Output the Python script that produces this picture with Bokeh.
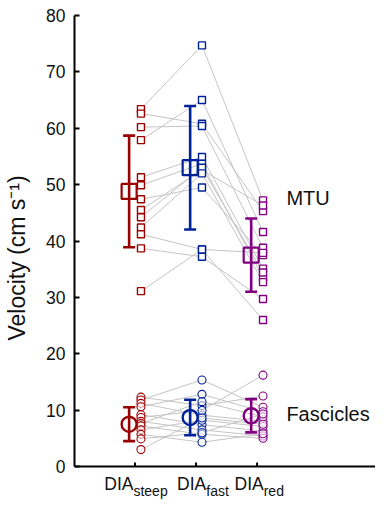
from bokeh.plotting import figure
from bokeh.models import Label, FixedTicker
from bokeh.embed import file_html
from bokeh.resources import INLINE

# ---------------- data ----------------
conditions = ["steep", "fast", "red"]
cond_x = [1, 2, 3]
colors = ["#990000", "#002299", "#800080"]

# MTU velocity, one value per participant (paired across conditions)
mtu_steep = [63.4, 62.6, 60.2, 57.9, 51.3, 49.9, 47.4, 45.5, 44.2, 42.4, 41.2, 38.7, 31.1]
mtu_fast = [74.7, 60.8, 60.4, 65.0, 54.9, 53.7, 49.5, 52.6, 53.0, 52.0, 38.5, 37.2, 38.5]
mtu_red = [47.2, 45.3, 38.8, 41.6, 35.1, 33.5, 37.5, 46.3, 34.4, 32.7, 37.9, 29.7, 26.0]

# Fascicle velocity
fas_steep = [12.3, 11.8, 11.2, 10.6, 9.2, 8.7, 8.0, 7.6, 7.2, 6.5, 5.7, 4.9, 3.0]
fas_fast = [10.8, 15.35, 9.1, 12.8, 7.4, 9.95, 6.5, 11.5, 5.7, 8.2, 4.3, 6.0, 8.6]
fas_red = [12.5, 10.5, 8.0, 9.7, 6.3, 16.2, 5.4, 8.8, 5.0, 7.1, 5.8, 9.3, 7.5]

# group means and SD
mtu_mean = [48.8, 53.0, 37.5]
mtu_sd = [9.9, 10.95, 6.5]
fas_mean = [7.5, 8.7, 9.0]
fas_sd = [3.0, 3.15, 2.95]

y_ticks = [0, 10, 20, 30, 40, 50, 60, 70, 80]
y_label = "Velocity (cm s\u207b\u00b9)"
series_labels = ["MTU", "Fascicles"]
series_label_y = [47.7, 9.4]

# ---------------- layout ----------------
FONT = "Liberation Sans"
pt_off = 0.097   # individual points right of the tick
mn_off = -0.097  # mean markers left of the tick
PX_PER_Y = 5.6375
X0, X1 = 0.008, 4.94
Y0, Y1 = -34 / PX_PER_Y, 80

p = figure(width=375, height=500, x_range=(X0, X1), y_range=(Y0, Y1),
           output_backend="svg", toolbar_location=None, x_axis_location=None,
           min_border_left=74, min_border_right=0, min_border_top=15, min_border_bottom=0)
p.outline_line_color = None
p.xgrid.visible = False
p.ygrid.visible = False
p.background_fill_color = "white"

# paired lines
xs_line = [[cx + pt_off for cx in cond_x] for _ in mtu_steep]
p.multi_line(xs=xs_line, ys=[list(t) for t in zip(mtu_steep, mtu_fast, mtu_red)],
             line_color="#c4c4c4", line_width=1)
p.multi_line(xs=xs_line, ys=[list(t) for t in zip(fas_steep, fas_fast, fas_red)],
             line_color="#c4c4c4", line_width=1)

mtu_groups = [mtu_steep, mtu_fast, mtu_red]
fas_groups = [fas_steep, fas_fast, fas_red]
for i, cx in enumerate(cond_x):
    c = colors[i]
    # individual points
    p.scatter([cx + pt_off] * len(mtu_groups[i]), mtu_groups[i], marker="square", size=7,
              line_color=c, line_width=1.4, fill_color="white")
    p.scatter([cx + pt_off] * len(fas_groups[i]), fas_groups[i], marker="circle", size=8,
              line_color=c, line_width=1.1, fill_color="white", fill_alpha=0.6)
    # error bars
    for m, s in ((mtu_mean[i], mtu_sd[i]), (fas_mean[i], fas_sd[i])):
        p.segment(x0=[cx + mn_off], y0=[m - s], x1=[cx + mn_off], y1=[m + s],
                  line_color=c, line_width=2.6)
        p.scatter([cx + mn_off, cx + mn_off], [m - s, m + s], marker="dash", size=12,
                  line_color=c, line_width=2.6)
    p.scatter([cx + mn_off], [mtu_mean[i]], marker="square", size=15,
              line_color=c, line_width=2.2, fill_color=None)
    p.scatter([cx + mn_off], [fas_mean[i]], marker="circle", size=15,
              line_color=c, line_width=2.4, fill_color=None)

# y axis (line limited to 0..80)
p.yaxis.bounds = (0, 80)
p.yaxis.ticker = FixedTicker(ticks=y_ticks)
p.yaxis.axis_label = y_label
p.yaxis.axis_label_text_font = FONT
p.yaxis.axis_label_text_font_style = "normal"
p.yaxis.axis_label_text_font_size = "23px"
p.yaxis.axis_label_text_color = "#111111"
p.yaxis.axis_label_standoff = 13
p.yaxis.major_label_text_font = FONT
p.yaxis.major_label_text_font_size = "17.5px"
p.yaxis.major_label_text_color = "#111111"
p.yaxis.major_label_standoff = 9
p.yaxis.major_tick_in = 5
p.yaxis.major_tick_out = 0
p.yaxis.minor_tick_line_color = None
p.yaxis.axis_line_width = 2
p.yaxis.major_tick_line_width = 2

# x axis drawn at y = 0 with inward ticks
p.segment(x0=[X0], y0=[0], x1=[X1], y1=[0], line_color="black", line_width=2)
p.segment(x0=cond_x, y0=[0] * 3, x1=cond_x, y1=[4 / PX_PER_Y] * 3,
          line_color="black", line_width=2)

# category labels DIA with subscripts
sub_split = [-1.6, 10.2, 6.6]  # px offset of the DIA/subscript boundary from tick
for i, cx in enumerate(cond_x):
    p.add_layout(Label(x=cx, y=-17 / PX_PER_Y, x_offset=sub_split[i], text="DIA",
                       text_align="right", text_baseline="alphabetic", text_font=FONT,
                       text_font_size="17.5px", text_color="#111111"))
    p.add_layout(Label(x=cx, y=-24 / PX_PER_Y, x_offset=sub_split[i], text=conditions[i],
                       text_align="left", text_baseline="alphabetic", text_font=FONT,
                       text_font_size="14px", text_color="#111111"))

for t, yv in zip(series_labels, series_label_y):
    p.add_layout(Label(x=3.48, y=yv, text=t, text_align="left", text_baseline="middle",
                       text_font=FONT, text_font_size="20px", text_color="#111111"))

open("out.html", "w").write(file_html(p, INLINE))
